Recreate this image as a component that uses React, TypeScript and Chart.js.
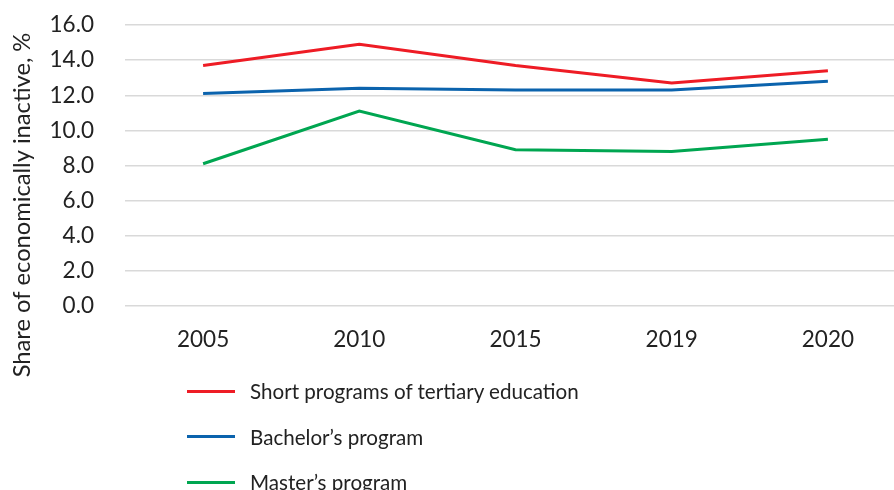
import React, { useEffect, useRef } from "react";
import { Chart, registerables } from "chart.js";

Chart.register(...registerables);

const categories = ["2005", "2010", "2015", "2019", "2020"];
const shortPrograms = [13.7, 14.9, 13.7, 12.7, 13.4];
const bachelor = [12.1, 12.4, 12.3, 12.3, 12.8];
const master = [8.1, 11.1, 8.9, 8.8, 9.5];
const seriesNames = ["Short programs of tertiary education", "Bachelor’s program", "Master’s program"];
const seriesColors = ["#ee1c25", "#0b63ad", "#00a651"];
const yTitle = "Share of economically inactive, %";

const FONT = "Lato, 'Noto Sans', sans-serif";

const yTitlePlugin = {
  id: "yTitle",
  afterDraw(chart: any) {
    const ctx = chart.ctx;
    ctx.save();
    ctx.translate(22, 205);
    ctx.rotate(-Math.PI / 2);
    ctx.font = `23.7px ${FONT}`;
    ctx.fillStyle = "#222";
    ctx.textAlign = "center";
    ctx.textBaseline = "middle";
    ctx.fillText(yTitle, 0, 0);
    ctx.restore();
  },
};

export default function App() {
  const ref = useRef<HTMLCanvasElement | null>(null);
  useEffect(() => {
    if (!ref.current) return;
    const chart = new Chart(ref.current, {
      type: "line",
      data: {
        labels: categories,
        datasets: [shortPrograms, bachelor, master].map((d, i) => ({
          label: seriesNames[i],
          data: d,
          borderColor: seriesColors[i],
          backgroundColor: seriesColors[i],
          borderWidth: 3,
          pointRadius: 0,
          tension: 0,
          fill: false,
        })),
      },
      plugins: [yTitlePlugin],
      options: {
        animation: false,
        responsive: false,
        maintainAspectRatio: false,
        layout: { padding: { top: 25, bottom: 117, left: 0, right: 4 } },
        plugins: { legend: { display: false }, tooltip: { enabled: false } },
        scales: {
          x: {
            offset: true,
            grid: { display: false, drawTicks: false },
            border: { display: false },
            ticks: { padding: 20, autoSkip: false, maxRotation: 0, color: "#222", font: { family: FONT, size: 22.5 } },
          },
          y: {
            min: 0,
            max: 16,
            afterFit: (s: any) => { s.width = 125; },
            grid: { color: "#d9d9d9", lineWidth: 1.5, drawTicks: true, tickLength: 31, tickColor: "rgba(0,0,0,0)" },
            border: { display: false },
            ticks: {
              stepSize: 2,
              autoSkip: false,
              padding: 0,
              color: "#222",
              font: { family: FONT, size: 22.5 },
              callback: (v: any) => Number(v).toFixed(1),
            },
          },
        },
      },
    });
    return () => chart.destroy();
  }, []);

  return (
    <div style={{ position: "absolute", left: 0, top: 0, width: 894, height: 490, overflow: "hidden", background: "#fff" }}>
      <canvas ref={ref} width={910} height={490} style={{ display: "block", width: 910, height: 490 }} />
      {seriesNames.map((n, i) => (
        <div key={n} style={{ position: "absolute", left: 187, top: 391 + i * 45.5 - 15, height: 30, display: "flex", alignItems: "center" }}>
          <div style={{ width: 48, height: 3, background: seriesColors[i] }} />
          <span style={{ marginLeft: 15, fontFamily: FONT, fontSize: 20.6, color: "#222", whiteSpace: "nowrap" }}>{n}</span>
        </div>
      ))}
    </div>
  );
}
